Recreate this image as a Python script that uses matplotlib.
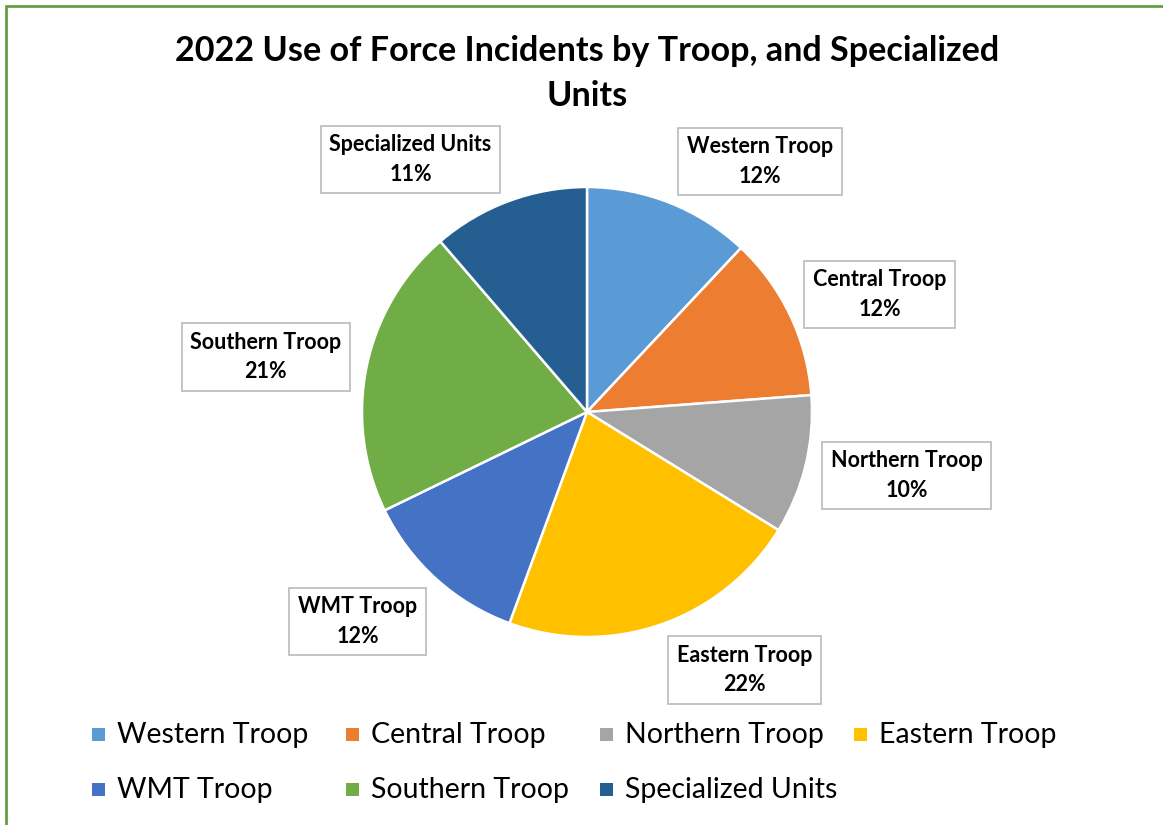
import matplotlib
matplotlib.use("Agg")
import matplotlib.pyplot as plt
from matplotlib.patches import Rectangle

categories = ["Western Troop", "Central Troop", "Northern Troop", "Eastern Troop",
              "WMT Troop", "Southern Troop", "Specialized Units"]
values = [12.0, 11.8, 10.0, 21.8, 12.2, 20.9, 11.3]
pct_labels = ["12%", "12%", "10%", "22%", "12%", "21%", "11%"]
colors = ["#5B9BD5", "#ED7D31", "#A5A5A5", "#FFC000", "#4472C4", "#70AD47", "#255E91"]

# label box centres (data units, pie radius = 1)
label_pos = [(0.769, 1.113), (1.30, 0.522), (1.422, -0.282), (0.70, -1.147),
             (-1.02, -0.931), (-1.427, 0.244), (-0.784, 1.122)]

W, H = 1163, 825
fig = plt.figure(figsize=(W / 100, H / 100), dpi=100)
plt.rcParams['font.family'] = ['Lato', 'DejaVu Sans']

cx, cy, R = 587, 412, 225
ax = fig.add_axes([0, 0, 1, 1])
ax.axis('off')

ax.pie(values, colors=colors, startangle=90, counterclock=False, radius=1,
       center=(0, 0), frame=False,
       wedgeprops=dict(edgecolor='white', linewidth=1.8))
ax.set_xlim(-cx / R, (W - cx) / R)
ax.set_ylim((cy - H) / R, cy / R)
ax.set_aspect('auto')

for cat, p, (lx, ly) in zip(categories, pct_labels, label_pos):
    ax.text(lx, ly, f"{cat}\n{p}", ha='center', va='center', fontsize=15.5,
            fontweight='bold', linespacing=1.5,
            bbox=dict(boxstyle='square,pad=0.4', facecolor='white',
                      edgecolor='#BFBFBF', linewidth=1.3))

fig.text(587 / W, 1 - 51 / H, "2022 Use of Force Incidents by Troop, and Specialized",
         ha='center', va='center', fontsize=24.6, fontweight='bold')
fig.text(587 / W, 1 - 96 / H, "Units", ha='center', va='center', fontsize=24.6,
         fontweight='bold')

# legend
col_x = [92, 346, 600, 854]
row_y = [735, 790]
for i, (cat, col) in enumerate(zip(categories, colors)):
    r, c = divmod(i, 4)
    x0, y0 = col_x[c], row_y[r]
    fig.patches.append(Rectangle((x0 / W, 1 - (y0 + 6) / H), 13 / W, 13 / H,
                                 transform=fig.transFigure, facecolor=col,
                                 edgecolor='none'))
    fig.text((x0 + 25) / W, 1 - y0 / H, cat, ha='left', va='center', fontsize=20.5)

# border (right and bottom edges fall outside the image)
fig.patches.append(Rectangle((6 / W, -0.05), 1.2, 1 - 6 / H + 0.05,
                             transform=fig.transFigure, facecolor='none',
                             edgecolor='#62A03F', linewidth=2.0))

fig.savefig("out.png", dpi=100)
